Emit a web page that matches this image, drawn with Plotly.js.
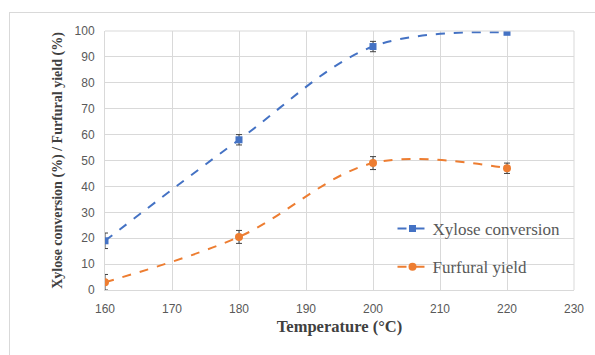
<!DOCTYPE html>
<html>
<head>
<meta charset="utf-8">
<script src="https://cdn.plot.ly/plotly-3.0.1.min.js"></script>
<style>
html,body{margin:0;padding:0;background:#fff;}
#frame{position:absolute;left:9px;top:12px;width:600px;height:360px;border-left:1px solid #d9d9d9;border-top:1px solid #d9d9d9;}
#chart{position:absolute;left:0;top:0;width:595px;height:355px;}
</style>
</head>
<body>
<div id="frame"></div>
<div id="chart"></div>
<script>
var temperatures = [160, 180, 200, 220];
var xyloseConversion = [19, 58, 94, 99.5];
var xyloseError = [3, 2, 2, 0];
var furfuralYield = [3, 20.5, 49, 47];
var furfuralError = [3, 2.5, 2.5, 2];
var seriesNames = ['Xylose conversion', 'Furfural yield'];
var xTicks = [160, 170, 180, 190, 200, 210, 220, 230];
var yTicks = [0, 10, 20, 30, 40, 50, 60, 70, 80, 90, 100];

var traces = [
  {
    x: temperatures, y: xyloseConversion, name: seriesNames[0],
    type: 'scatter', mode: 'lines+markers', legendgroup: 'a',
    line: {color: '#4472C4', width: 2, dash: 'dash', shape: 'spline', smoothing: 1},
    marker: {color: '#4472C4', size: 7, symbol: 'square'},
    error_y: {type: 'data', array: xyloseError, visible: true, color: '#404040', thickness: 1, width: 3}
  },
  {
    x: temperatures, y: furfuralYield, name: seriesNames[1],
    type: 'scatter', mode: 'lines+markers', legendgroup: 'b',
    line: {color: '#ED7D31', width: 2, dash: 'dash', shape: 'spline', smoothing: 1},
    marker: {color: '#ED7D31', size: 8, symbol: 'circle'},
    error_y: {type: 'data', array: furfuralError, visible: true, color: '#404040', thickness: 1, width: 3}
  }
];

var layout = {
  width: 595, height: 355,
  margin: {l: 105, r: 21, t: 31, b: 65},
  paper_bgcolor: 'rgba(0,0,0,0)',
  plot_bgcolor: '#fff',
  showlegend: true,
  legend: {
    x: 0.613, y: 0.305, xanchor: 'left', yanchor: 'top',
    font: {family: 'Liberation Serif', size: 17, color: '#595959'},
    bgcolor: 'rgba(255,255,255,0)',
    traceorder: 'grouped', tracegroupgap: 13
  },
  xaxis: {
    range: [160, 230], tickvals: xTicks, ticktext: xTicks.map(String),
    showgrid: true, gridcolor: '#d9d9d9', gridwidth: 1,
    zeroline: false, showline: true, linecolor: '#d9d9d9', mirror: false,
    ticks: '', ticklabelstandoff: 8, tickfont: {family: 'Liberation Sans', size: 12, color: '#595959'},
    title: {text: 'Temperature (°C)', font: {family: 'Liberation Serif', size: 16.5, color: '#404040', weight: 'bold'}, standoff: 5}
  },
  yaxis: {
    range: [0, 100], tickvals: yTicks, ticktext: yTicks.map(String),
    showgrid: true, gridcolor: '#d9d9d9', gridwidth: 1,
    zeroline: false, showline: true, linecolor: '#d9d9d9',
    ticks: '', ticklabelstandoff: 7, tickfont: {family: 'Liberation Sans', size: 12, color: '#595959'},
    title: {text: 'Xylose conversion (%) / Furfural yield (%)', font: {family: 'Liberation Serif', size: 14, color: '#404040', weight: 'bold'}, standoff: 8}
  },
  shapes: [
    {type: 'line', xref: 'paper', yref: 'paper', x0: 1, x1: 1, y0: 0, y1: 1, line: {color: '#d9d9d9', width: 1}},
    {type: 'line', xref: 'paper', yref: 'paper', x0: 0, x1: 1, y0: 1, y1: 1, line: {color: '#d9d9d9', width: 1}}
  ]
};

Plotly.newPlot('chart', traces, layout, {displayModeBar: false, staticPlot: true});
</script>
</body>
</html>
